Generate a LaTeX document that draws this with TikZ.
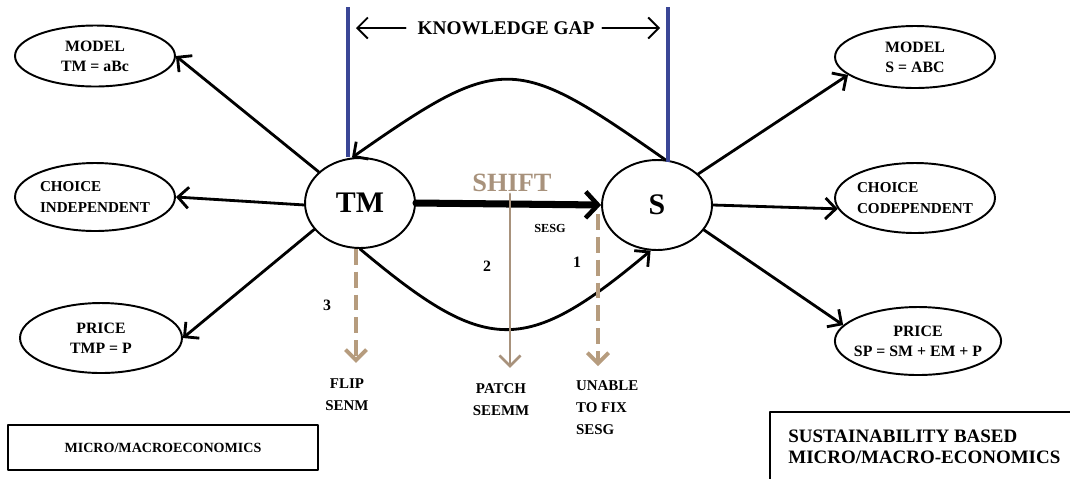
\documentclass[tikz,border=0pt]{standalone}
\usepackage{fontspec}
\setmainfont{Liberation Serif}
\usepackage{tikz}
\usetikzlibrary{arrows.meta,shapes.geometric}

\definecolor{gapblue}{RGB}{58,70,150}
\definecolor{shifttan}{RGB}{168,146,124}
\definecolor{dashtan}{RGB}{182,156,126}

\tikzset{
  oval/.style={draw,ellipse,line width=1.1pt,inner sep=0pt,align=center,
    font=\fontsize{9}{11.5}\selectfont\bfseries},
  hub/.style={draw,ellipse,line width=1.1pt,minimum width=2.2cm,minimum height=1.8cm,
    font=\fontsize{17}{17}\selectfont\bfseries},
  link/.style={->,line width=1.6pt},
  lbl/.style={inner sep=1pt,font=\fontsize{8.5}{12.5}\selectfont\bfseries}
}

\begin{document}
\begin{tikzpicture}[line cap=round,line join=round,>={Straight Barb[length=6pt,width=12pt]},x=0.02cm,y=-0.02cm]
                  \useasboundingbox (0,0) rectangle (1070,478);
                  % hubs
                  \node[hub] (TM) at (360,203) {TM};
                  \node[hub] (S) at (657,205) {S};
                  % left ovals
                  \node[oval,minimum width=3.2cm,minimum height=1.22cm] (lmodel) at (95,56) {MODEL\\TM = aBc};
                  \node[oval,minimum width=3.2cm,minimum height=1.36cm,align=left,inner sep=-3pt,font=\fontsize{8.6}{11.5}\selectfont\bfseries] (lchoice) at (95,197) {CHOICE\\INDEPENDENT};
                  \node[oval,minimum width=3.24cm,minimum height=1.4cm] (lprice) at (101,338) {PRICE\\TMP = P};
                  % right ovals
                  \node[oval,minimum width=3.2cm,minimum height=1.24cm] (rmodel) at (915,57) {MODEL\\S = ABC};
                  \node[oval,minimum width=3.2cm,minimum height=1.4cm,align=left,inner sep=-3pt,font=\fontsize{8.6}{11.5}\selectfont\bfseries] (rchoice) at (915,198) {CHOICE\\CODEPENDENT};
                  \node[oval,minimum width=3.2cm,minimum height=1.36cm,inner sep=-3pt] (rprice) at (918,341) {PRICE\\SP = SM + EM + P};
                  \draw [link] (TM.143) -- (lmodel.east);
                  \draw [link] (TM.182) -- (lchoice.east);
                  \draw [link] (TM.210) -- (lprice.east);
                  \draw [link] (S.37) -- (rmodel.195);
                  \draw [link] (S.east) -- (rchoice.188);
                  \draw [link] (S.332) -- (rprice.168);
                  % knowledge gap
                  \coordinate (gapL) at (348,7);
                  \coordinate (gapR) at (668,7);
                  \draw [gapblue,line width=2.4pt,line cap=butt] (gapL) -- (gapL |- TM.north);
                  \draw [gapblue,line width=2.4pt,line cap=butt] (gapR) -- ([yshift=-0.06cm]gapR |- S.north);
                  \node[inner sep=1pt,font=\fontsize{11}{11}\selectfont\bfseries] (gap) at (506,28) {KNOWLEDGE GAP};
                  \draw [->,line width=1.1pt] ([xshift=-0.2cm]gap.west) -- ([xshift=0.16cm]gapL |- gap.west);
                  \draw [->,line width=1.1pt] ([xshift=0.12cm]gap.east) -- ([xshift=-0.16cm]gapR |- gap.east);
                  % curves
                  \draw [link] (S.80) to[out=145,in=35,looseness=1.5] (TM.100);
                  \draw [link] (TM.south) to[out=-40,in=-140,looseness=1.45] (S.262);
                  \draw [-{Straight Barb[length=7pt,width=15pt,line width=2.6pt]},line width=4pt] (TM.east) -- (S.west);
                  % shift
                  \node[inner sep=1pt,text=shifttan,font=\fontsize{15}{15}\selectfont\bfseries] (shift) at (512,183) {SHIFT};
                  \node[lbl,align=center] (flip) at (347,395) {FLIP\\SENM};
                  \node[lbl,align=center] (patch) at (501,400) {PATCH\\SEEMM};
                  \node[lbl,align=left,anchor=north west] (unable) at (574,379) {UNABLE\\TO FIX\\SESG};
                  \coordinate (fixtop) at (598,214);
                  \draw [->,shifttan,line width=1.5pt] (shift.south -| 510,0) -- ([yshift=0.28cm]510,0 |- patch.north);
                  \draw [->,dashtan,line width=2.2pt,line cap=butt,dash pattern=on 9pt off 4pt] (TM.265) -- ([yshift=0.28cm]TM.265 |- flip.north);
                  \draw [->,dashtan,line width=2.2pt,line cap=butt,dash pattern=on 9pt off 4pt] (fixtop) -- ([yshift=0.26cm]fixtop |- unable.north);
                  \node[lbl,font=\fontsize{9}{9}\selectfont\bfseries] (three) at (327,305) {3};
                  \node[lbl,font=\fontsize{9}{9}\selectfont\bfseries] (two) at (487,266) {2};
                  \node[lbl,font=\fontsize{9}{9}\selectfont\bfseries] (one) at (577,262) {1};
                  \node[lbl,font=\fontsize{7}{7}\selectfont\bfseries] (sesg) at (550,228) {SESG};
                  % boxes
                  \node[draw,line width=1.5pt,minimum width=6.2cm,minimum height=0.9cm,font=\fontsize{8}{8}\selectfont\bfseries] (microbox) at (163,447.5) {MICRO/MACROECONOMICS};
                  \draw [line width=1.5pt] (1075,412) -| (770,485);
                  \node[anchor=north west,align=left,inner sep=0pt,font=\fontsize{10.8}{11.5}\selectfont\bfseries] (susbox) at (788,430) {SUSTAINABILITY BASED\\MICRO/MACRO-ECONOMICS};
              \end{tikzpicture}
\end{document}
